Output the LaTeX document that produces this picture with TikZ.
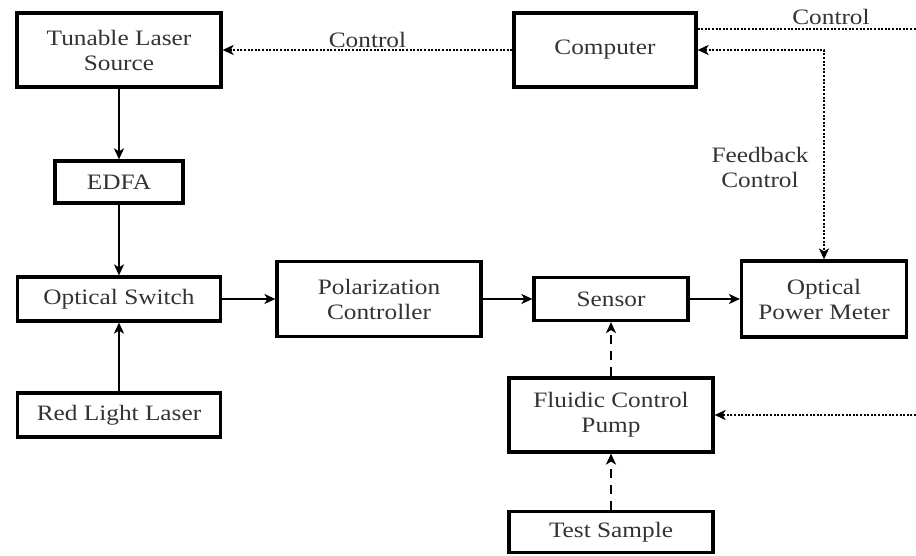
\documentclass[tikz,border=0pt]{standalone}
\usepackage{fontspec}
\setmainfont{Liberation Serif}[FakeStretch=1.15]
\usetikzlibrary{arrows.meta}
\definecolor{TextClr}{rgb}{0.2,0.2,0.2}

\tikzset{
  block/.style={draw, line width=3.2pt, text=TextClr, align=center, inner sep=0pt,
    font=\fontsize{22}{25}\selectfont},
  label/.style={text=TextClr, align=center, font=\fontsize{22}{25}\selectfont},
  tip/.style={-{Stealth[length=11pt,width=10pt,inset=3pt]}},
  beam/.style={tip, line width=2.6pt},
  ctrl/.style={line width=2.6pt, dash pattern=on 2pt off 1.6pt},
  fluid/.style={tip, line width=2.2pt, dash pattern=on 9pt off 7pt}
}

\begin{document}
\begin{tikzpicture}[x=1pt,y=-1pt]
\useasboundingbox (0,0) rectangle (916,556);

% blocks
\node[block, minimum width=204, minimum height=74] (tls)  at (119,50)  {Tunable Laser\\Source};
\node[block, minimum width=182, minimum height=74] (comp) at (605,50)  {Computer};
\node[block, minimum width=128, minimum height=42] (edfa) at (119,182) {EDFA};
\node[block, minimum width=203, minimum height=44] (osw)  at (119,299) {Optical Switch};
\node[block, minimum width=203, minimum height=44] (red)  at (119,415) {Red Light Laser};
\node[block, minimum width=204, minimum height=75] (pol)  at (379,299) {Polarization\\Controller};
\node[block, minimum width=154, minimum height=43] (sens) at (611,299) {Sensor};
\node[block, minimum width=165, minimum height=76] (opm)  at (824,299) {Optical\\Power Meter};
\node[block, minimum width=204, minimum height=74] (pump) at (611,415) {Fluidic Control\\Pump};
\node[block, minimum width=204, minimum height=41] (test) at (611,532) {Test Sample};

% free ends at the right edge
\coordinate (outctrl) at (916,29);
\coordinate (inpump) at (916,415);

% optical path
\draw[beam] (tls) -- (edfa);
\draw[beam] (edfa) -- (osw);
\draw[beam] (red) -- (osw);
\draw[beam] (osw) -- (pol);
\draw[beam] (pol) -- (sens);
\draw[beam] (sens) -- (opm);

% fluid path
\draw[fluid] (test) -- (pump);
\draw[fluid] (pump) -- (sens);

% control lines
\draw[ctrl, tip] (comp) -- (tls) node[label, midway, above, inner sep=1pt] {Control};
\draw[ctrl] (comp.east |- outctrl) -- (outctrl);
\node[label] (ctrltxt) at (831,17) {Control};
\draw[ctrl, {Stealth[length=11pt,width=10pt,inset=3pt]}-{Stealth[length=11pt,width=10pt,inset=3pt]}] (comp) -| (opm);
\node[label] (fbtxt) at (760,167) {Feedback\\Control};
\draw[ctrl, tip] (inpump) -- (pump);

\end{tikzpicture}
\end{document}
